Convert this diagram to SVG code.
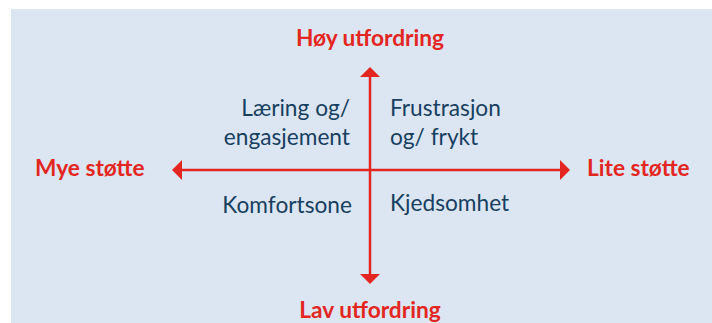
<svg xmlns="http://www.w3.org/2000/svg" width="712" height="323" viewBox="0 0 712 323">
<defs>
<style>
.red{fill:#e3261f;font-family:Lato,"Liberation Sans",sans-serif;font-weight:bold;font-size:22.7px}
.blue{fill:#173f61;font-family:Lato,"Liberation Sans",sans-serif;font-size:22.7px}
.ax{stroke:#e3261f;stroke-width:2.5;fill:none}
</style>
<marker id="ah" viewBox="0 0 10 20" refX="0" refY="10" markerWidth="10" markerHeight="20" markerUnits="userSpaceOnUse" orient="auto">
<path d="M0,0 L10,10 L0,20 Z" fill="#e3261f"/>
</marker>
</defs>
<rect x="0" y="0" width="712" height="323" fill="#ffffff"/>
<rect x="11" y="9" width="701" height="314" fill="#dce6f2"/>
<g id="connectors">
<line class="ax" x1="370" y1="170" x2="370" y2="77" marker-end="url(#ah)"/>
<line class="ax" x1="370" y1="170" x2="370" y2="274" marker-end="url(#ah)"/>
<line class="ax" x1="370" y1="170" x2="182" y2="170" marker-end="url(#ah)"/>
<line class="ax" x1="370" y1="170" x2="560" y2="170" marker-end="url(#ah)"/>
</g>
<g id="hoy"><text class="red" x="370" y="46" text-anchor="middle">Høy utfordring</text></g>
<g id="lav"><text class="red" x="370" y="318" text-anchor="middle">Lav utfordring</text></g>
<g id="mye"><text class="red" x="35" y="176">Mye støtte</text></g>
<g id="lite"><text class="red" x="587" y="176">Lite støtte</text></g>
<g id="laering"><text class="blue" x="350" text-anchor="end"><tspan x="350" y="116">Læring og/</tspan><tspan x="350" y="145">engasjement</tspan></text></g>
<g id="frustrasjon"><text class="blue" x="390"><tspan x="390" y="116">Frustrasjon</tspan><tspan x="390" y="145">og/ frykt</tspan></text></g>
<g id="komfort"><text class="blue" x="352" y="213" text-anchor="end">Komfortsone</text></g>
<g id="kjed"><text class="blue" x="390" y="211">Kjedsomhet</text></g>
</svg>
